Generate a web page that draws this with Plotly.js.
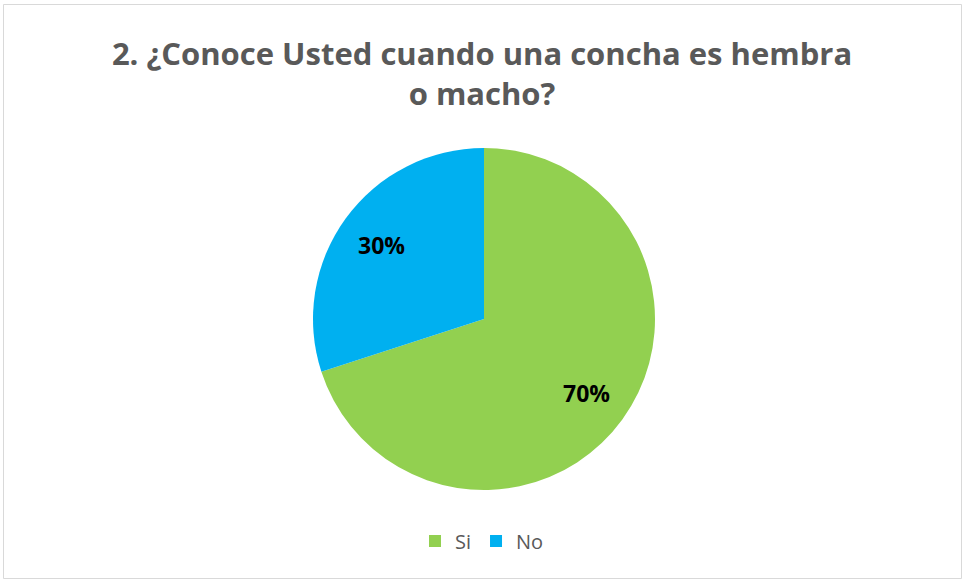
<!DOCTYPE html>
<html>
<head>
<meta charset="utf-8">
<script src="https://cdn.plot.ly/plotly-3.0.1.min.js"></script>
<style>html,body{margin:0;padding:0;background:#fff;}#chart{width:964px;height:580px;}</style>
</head>
<body>
<div id="chart"></div>
<script>
var labels = ["Si", "No"];
var values = [70, 30];
var colors = ["#92D050", "#00B0F0"];
var titleText = "2. ¿Conoce Usted cuando una concha es hembra<br>o macho?";

var W = 964, H = 580;
var cx = 484, cy = 319, R = 171;

var trace = {
  type: "pie",
  labels: labels,
  values: values,
  sort: false,
  direction: "clockwise",
  rotation: 0,
  marker: {colors: colors, line: {width: 0}},
  textinfo: "none",
  hoverinfo: "label+percent",
  domain: {x: [(cx - R)/W, (cx + R)/W], y: [(H - cy - R)/H, (H - cy + R)/H]}
};

// percentage labels placed at mid-angle of each slice, derived from values
var total = values.reduce(function(a, b){ return a + b; }, 0);
var annotations = [];
var cum = 0;
for (var i = 0; i < values.length; i++) {
  var frac = values[i] / total;
  var mid = (cum + frac / 2) * 2 * Math.PI; // clockwise from 12 o'clock
  cum += frac;
  var rr = 0.74 * R;
  var px = cx + rr * Math.sin(mid);
  var py = cy - rr * Math.cos(mid);
  annotations.push({
    xref: "paper", yref: "paper",
    x: px / W, y: 1 - py / H,
    xanchor: "center", yanchor: "middle",
    showarrow: false,
    text: "<b>" + Math.round(frac * 100) + "%</b>",
    font: {family: "Open Sans", size: 23, color: "#000000"}
  });
}

var layout = {
  width: W, height: H,
  margin: {l: 0, r: 0, t: 0, b: 0},
  paper_bgcolor: "#ffffff",
  font: {family: "Open Sans", color: "#595959"},
  title: {
    text: titleText,
    font: {family: "Open Sans", size: 31, color: "#595959", weight: "bold"},
    x: 0.5, xanchor: "center",
    y: 1 - 65/580, yanchor: "middle"
  },
  showlegend: true,
  legend: {
    orientation: "h",
    x: 0.5, xanchor: "center",
    y: 1 - 541/580, yanchor: "middle",
    font: {family: "Open Sans", size: 20, color: "#595959"},
    itemwidth: 30,
    tracegroupgap: 0
  },
  annotations: annotations,
  shapes: [{
    type: "rect", xref: "paper", yref: "paper",
    x0: 3.5/W, x1: 961.5/W, y0: 1 - 578.5/H, y1: 1 - 4.5/H,
    line: {color: "#D9D9D9", width: 1}
  }]
};

Plotly.newPlot("chart", [trace], layout, {displayModeBar: false, staticPlot: true});
</script>
</body>
</html>
